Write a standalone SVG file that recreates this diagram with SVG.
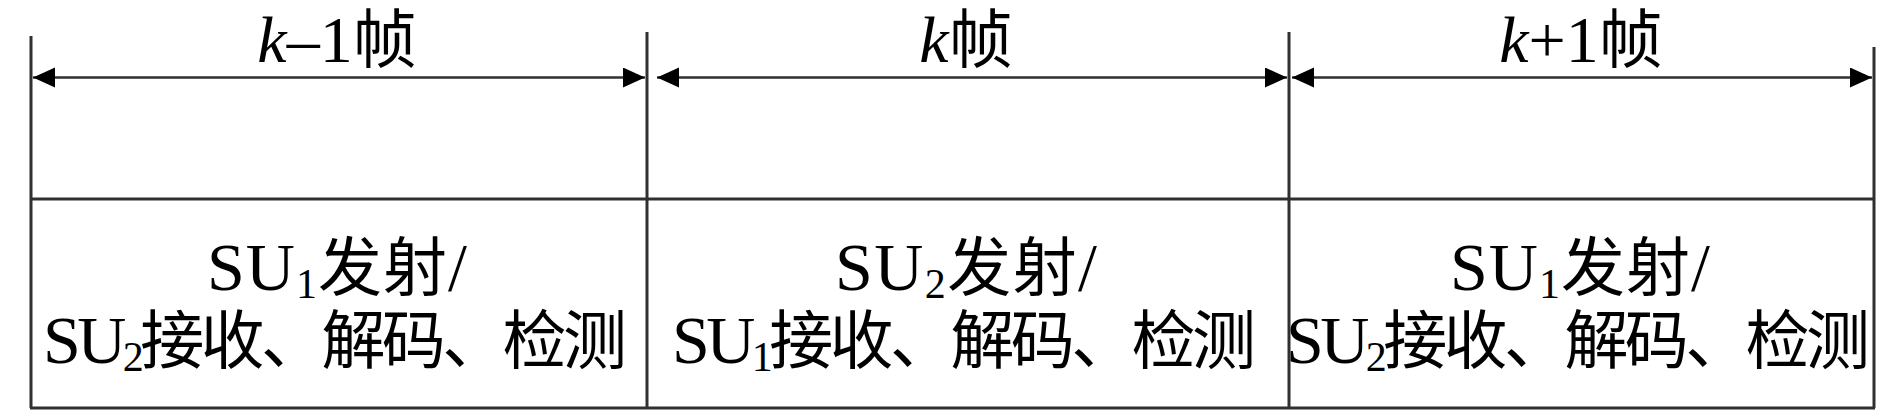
<svg xmlns="http://www.w3.org/2000/svg" width="1890" height="416" viewBox="0 0 1890 416">
<style>
.ln{stroke:#303030;stroke-width:3;fill:none}
.ar{stroke:#303030;stroke-width:2.5;fill:none;marker-start:url(#ah);marker-end:url(#ah)}
.hd{font-family:"Liberation Serif","Noto Sans CJK SC",serif;font-size:66px;fill:#000;text-anchor:middle}
.bd{font-family:"Liberation Serif","Noto Sans CJK SC",serif;font-size:68px;fill:#000;text-anchor:middle}
.it{font-style:italic}
.sb{font-size:42px}
.cj{font-size:64px}
</style>
<defs>
<marker id="ah" markerUnits="userSpaceOnUse" markerWidth="24" markerHeight="22" refX="22" refY="10" orient="auto-start-reverse" viewBox="0 0 24 22">
<path d="M0,0 L22,10 L0,20 z" fill="#000"/>
</marker>
</defs>
<rect width="1890" height="416" fill="#fff"/>
<g id="frame">
<line class="ln" x1="31" y1="36" x2="31" y2="408"/>
<line class="ln" x1="647" y1="32" x2="647" y2="408"/>
<line class="ln" x1="1289" y1="32" x2="1289" y2="408"/>
<line class="ln" x1="1874" y1="47" x2="1874" y2="408"/>
<line class="ln" x1="31" y1="199" x2="1874" y2="199"/>
<line class="ln" x1="30" y1="408" x2="1875" y2="408"/>
</g>
<g id="connectors">
<line class="ar" x1="33" y1="77.5" x2="645" y2="77.5"/>
<line class="ar" x1="657" y1="77.5" x2="1287" y2="77.5"/>
<line class="ar" x1="1292" y1="77.5" x2="1872" y2="77.5"/>
</g>
<g id="frame-k-1">
<text class="hd" x="337" y="62"><tspan class="it">k</tspan>–1<tspan class="cj">帧</tspan></text>
<text class="bd" x="337" y="290" textLength="260" lengthAdjust="spacing">SU<tspan class="sb" dy="8">1</tspan><tspan class="cj" dy="-8">发射</tspan>/</text>
<text class="bd" x="335" y="363" textLength="584" lengthAdjust="spacing">SU<tspan class="sb" dy="8">2</tspan><tspan class="cj" dy="-8">接收、解码、检测</tspan></text>
</g>
<g id="frame-k">
<text class="hd" x="966" y="62"><tspan class="it">k</tspan><tspan class="cj">帧</tspan></text>
<text class="bd" x="966" y="290" textLength="262" lengthAdjust="spacing">SU<tspan class="sb" dy="8">2</tspan><tspan class="cj" dy="-8">发射</tspan>/</text>
<text class="bd" x="964" y="363" textLength="584" lengthAdjust="spacing">SU<tspan class="sb" dy="8">1</tspan><tspan class="cj" dy="-8">接收、解码、检测</tspan></text>
</g>
<g id="frame-k+1">
<text class="hd" x="1581" y="62"><tspan class="it">k</tspan>+1<tspan class="cj">帧</tspan></text>
<text class="bd" x="1580" y="290" textLength="260" lengthAdjust="spacing">SU<tspan class="sb" dy="8">1</tspan><tspan class="cj" dy="-8">发射</tspan>/</text>
<text class="bd" x="1578" y="363" textLength="584" lengthAdjust="spacing">SU<tspan class="sb" dy="8">2</tspan><tspan class="cj" dy="-8">接收、解码、检测</tspan></text>
</g>
</svg>
